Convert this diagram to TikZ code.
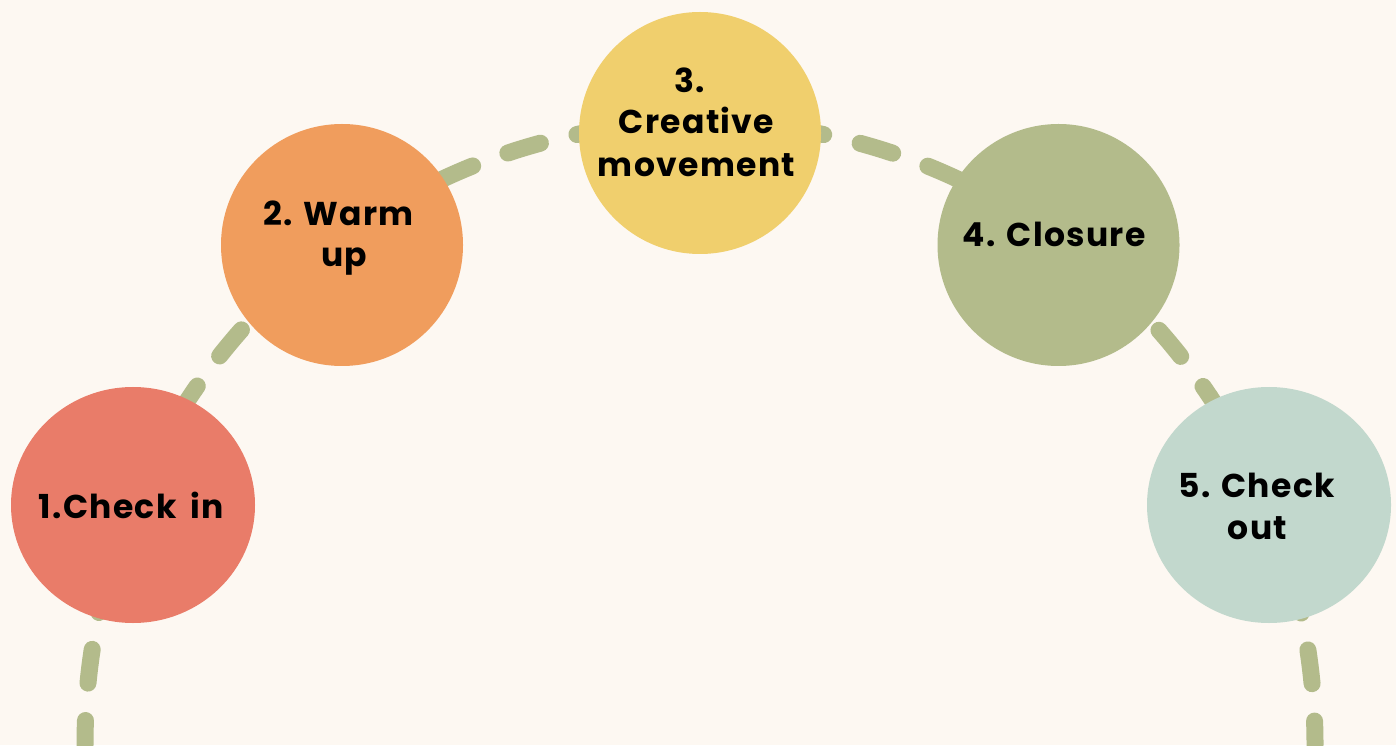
\documentclass[tikz,border=0pt]{standalone}
\usepackage{fontspec}
\setmainfont{Poppins}[LetterSpace=4]
\usetikzlibrary{shapes.geometric}
\definecolor{bg}{HTML}{FDF8F2}
\definecolor{cone}{HTML}{E97C69}
\definecolor{ctwo}{HTML}{F09D5D}
\definecolor{cthree}{HTML}{F0CF6D}
\definecolor{cfour}{HTML}{B3BB8B}
\definecolor{cfive}{HTML}{C2D8CD}
\definecolor{dashcol}{HTML}{B3BB8B}
\tikzset{
  blob/.style={circle, inner sep=0pt, minimum size=242pt*0.5, draw=none},
  oval/.style={ellipse, inner sep=0pt, minimum width=244pt*0.5, minimum height=236pt*0.5, draw=none},
  lbl/.style={anchor=base, inner sep=0pt, font=\fontsize{16.5}{20}\selectfont\bfseries, text=black},
  trail/.style={draw=dashcol, line width=8.5pt, line cap=round, dash pattern=on 17pt off 18.75pt, dash phase=4.75pt}
}
\begin{document}
\begin{tikzpicture}[x=0.5pt,y=0.5pt]
\fill[bg] (0,0) rectangle (1396,745);
\useasboundingbox (0,0) rectangle (1396,745);
\coordinate (arcstart) at (85,0);
\draw[trail] (arcstart) arc[start angle=180, end angle=0, x radius=615, y radius=623];
\node[oval, fill=cone] (c1) at (133,240) {};
\node[blob, fill=ctwo] (c2) at (342,500) {};
\node[blob, fill=cthree] (c3) at (700,612) {};
\node[blob, fill=cfour] (c4) at (1058.5,500) {};
\node[oval, fill=cfive] (c5) at (1269,240) {};
\node[lbl] (t1) at (131.5,227) {1.Check\hspace{3pt} in};
\node[lbl] (t2a) at (338.5,519) {2. Warm};
\node[lbl] (t2b) at (344,478) {up};
\node[lbl] (t3a) at (690,652) {3.};
\node[lbl] (t3b) at (696.5,611) {Creative};
\node[lbl] (t3c) at (696.5,568) {movement};
\node[lbl] (t4) at (1054,498) {4. Closure};
\node[lbl] (t5a) at (1256.5,248) {5. Check};
\node[lbl] (t5b) at (1257.5,206) {out};
\end{tikzpicture}
\end{document}
